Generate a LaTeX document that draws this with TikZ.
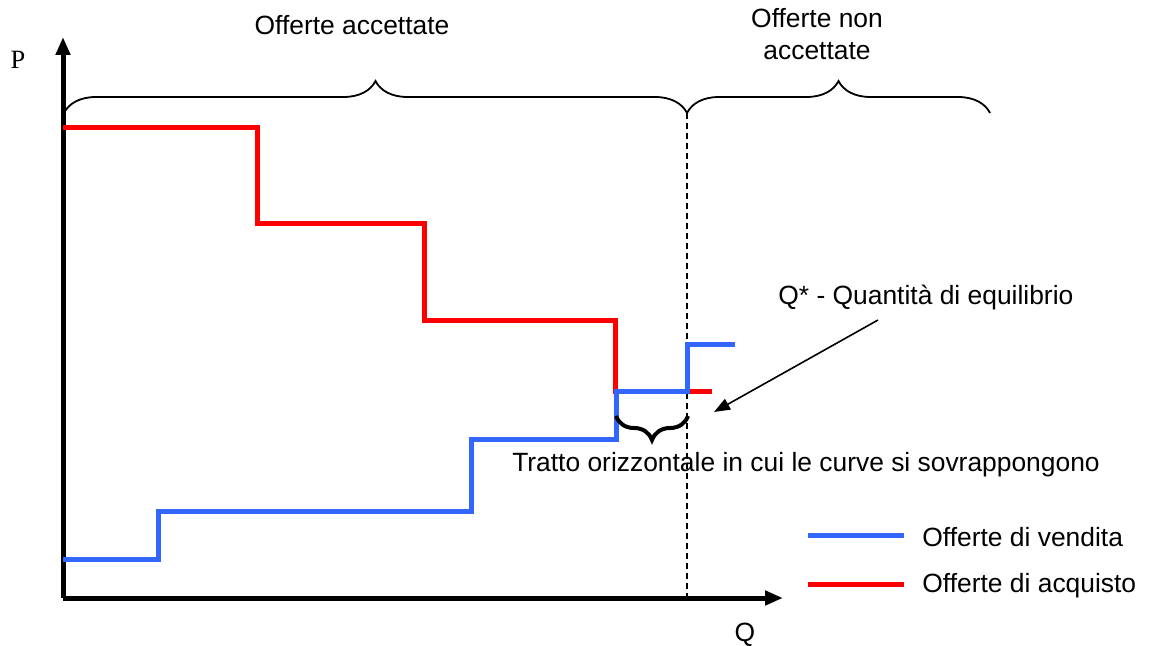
\documentclass[tikz,border=0pt]{standalone}
\usepackage{fontspec}
\setmainfont{Liberation Sans}
\newfontfamily\serifP{Liberation Serif}
\usetikzlibrary{arrows.meta,decorations.pathreplacing}

\definecolor{vendblue}{RGB}{51,102,255}
\definecolor{acqred}{RGB}{255,0,0}

\tikzset{
  axis/.style = {line width = 2.5pt, -{Triangle[length = 9pt, width = 7pt]}},
  vend/.style = {line width = 2.5pt, color = vendblue},
  acq/.style = {line width = 2.5pt, color = acqred},
  bigbrace/.style = {line width = 0.9pt, decorate, decoration = {brace, amplitude = 16pt}},
  smallbrace/.style = {line width = 2pt, decorate, decoration = {brace, amplitude = 12pt, mirror}},
  lbl/.style = {font = \fontsize{13.2}{16}\selectfont, inner sep = 0pt}
}

\begin{document}
\begin{tikzpicture}[x = 0.5pt, y = -0.5pt]
\useasboundingbox (0, 0) rectangle (1149, 646);
% axes
\coordinate (origin) at (63, 598);
\coordinate (ytip) at (63, 37);
\coordinate (xtip) at (783, 598);
\draw[axis] (origin) -- (ytip);
\draw[axis] (origin) -- (xtip);
\node[lbl, font = \serifP\fontsize{13.2}{16}\selectfont] (plabel) at (18, 60) {P};
\node[lbl] (qlabel) at (745, 635) {Q};
% equilibrium quantity
\coordinate (qstar) at (687, 113);
\coordinate (qstarbase) at (687, 598);
\draw[line width = 0.8pt, dash pattern = on 3pt off 2pt] (qstar) -- (qstarbase);
% purchase offers
\draw[acq] (63, 128) -- (257, 128) -- (257, 224) -- (424, 224) -- (424, 320)
  -- (615, 320) -- (615, 391) -- (712, 391);
% sale offers
\draw[vend] (63, 559) -- (158, 559) -- (158, 511) -- (471, 511) -- (471, 439)
  -- (616, 439) -- (616, 391) -- (687, 391) -- (687, 344) -- (735, 344);
% braces
\coordinate (accstart) at (64, 113);
\coordinate (accend) at (990, 113);
\draw[bigbrace] (accstart) -- (qstar);
\draw[bigbrace] (qstar) -- (accend);
\node[lbl] (accettate) at (352, 25) {Offerte accettate};
\node[lbl, align = center] (nonaccettate) at (817, 34) {Offerte non\\accettate};
\coordinate (overlapl) at (616, 416);
\coordinate (overlapr) at (688, 416);
\draw[smallbrace] (overlapl) -- (overlapr);
\node[lbl] (tratto) at (806, 465) {Tratto orizzontale in cui le curve si sovrappongono};
% pointer to Q*
\node[lbl, anchor = west] (qstarlabel) at (778, 298) {Q* - Quantità di equilibrio};
\coordinate (pointfrom) at (878, 320);
\coordinate (pointto) at (714, 412);
\draw[line width = 0.8pt, -{Triangle[length = 8pt, width = 6pt]}] (pointfrom) -- (pointto);
% legend
\coordinate (vendl) at (808, 535);
\coordinate (vendr) at (904, 535);
\coordinate (acql) at (808, 584);
\coordinate (acqr) at (904, 584);
\draw[vend] (vendl) -- (vendr);
\draw[acq] (acql) -- (acqr);
\node[lbl, anchor = west] (vendtext) at (922, 537) {Offerte di vendita};
\node[lbl, anchor = west] (acqtext) at (922, 586) {Offerte di acquisto};
\end{tikzpicture}
\end{document}
